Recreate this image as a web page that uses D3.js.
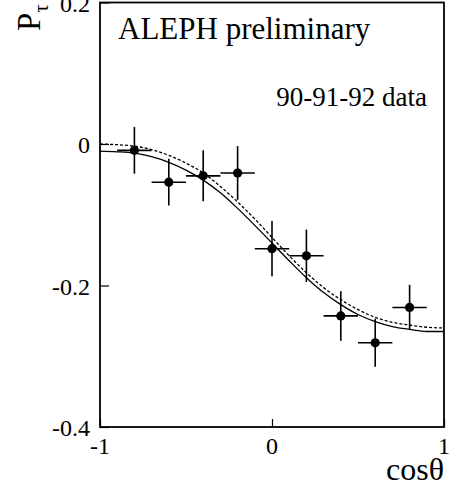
<!DOCTYPE html>
<html>
<head>
<meta charset="utf-8">
<script src="https://cdn.jsdelivr.net/npm/d3@7"></script>
<style>
  body { margin: 0; background: white; }
  text { font-family: "Liberation Serif", "Times New Roman", serif; fill: black; }
</style>
</head>
<body>
<div id="chart"></div>
<script>
// Data points: cos(theta) bin centres, tau polarisation, errors
var binCentres = [-0.8, -0.6, -0.4, -0.2, 0, 0.2, 0.4, 0.6, 0.8];
var polValues = [-0.009, -0.054, -0.045, -0.041, -0.148, -0.158, -0.243, -0.281, -0.231];
var polErrors = [0.033, 0.033, 0.036, 0.038, 0.039, 0.037, 0.035, 0.034, 0.032];
var binHalfWidth = 0.1;

// Fit curves
var curveX = [-1, -0.9, -0.8, -0.7, -0.6, -0.5, -0.4, -0.3, -0.2, -0.1, 0,
              0.1, 0.2, 0.3, 0.4, 0.5, 0.6, 0.7, 0.8, 0.9, 1];
var solidCurve = [-0.010, -0.011, -0.013, -0.018, -0.026, -0.037, -0.051, -0.069, -0.091, -0.115, -0.140,
                  -0.165, -0.189, -0.210, -0.227, -0.241, -0.251, -0.258, -0.262, -0.265, -0.265];
var dashedCurve = [0.000, -0.001, -0.003, -0.008, -0.016, -0.027, -0.041, -0.060, -0.082, -0.106, -0.132,
                   -0.158, -0.182, -0.203, -0.220, -0.234, -0.245, -0.252, -0.256, -0.259, -0.260];

// Tick labels
var xTicks = [-1, 0, 1];
var yTicks = [0.2, 0, -0.2, -0.4];

// SVG area
var svgWidth = 456;
var svgHeight = 489;

var svg = d3.select("#chart")
  .append("svg")
  .attr("width", svgWidth)
  .attr("height", svgHeight);

svg.append("rect")
  .attr("width", svgWidth)
  .attr("height", svgHeight)
  .attr("fill", "white");

// Scales
var xScale = d3.scaleLinear()
  .domain([-1, 1])
  .range([100, 444]);

var yScale = d3.scaleLinear()
  .domain([-0.4, 0.2])
  .range([427, 2.5]);

// Frame
svg.append("rect")
  .attr("x", xScale(-1))
  .attr("y", yScale(0.2))
  .attr("width", xScale(1) - xScale(-1))
  .attr("height", yScale(-0.4) - yScale(0.2))
  .attr("fill", "none")
  .attr("stroke", "black")
  .attr("stroke-width", 1.8);

// Axes: short inward ticks only
var leftAxis = d3.axisRight(yScale)
  .tickValues(yTicks)
  .tickSize(9)
  .tickFormat("");

svg.append("g")
  .attr("transform", `translate(${xScale(-1)}, 0)`)
  .call(leftAxis)
  .call(g => g.select(".domain").remove())
  .selectAll("line")
  .attr("stroke-width", 1.2);

var bottomAxis = d3.axisTop(xScale)
  .tickValues(xTicks)
  .tickSize(8)
  .tickFormat("");

svg.append("g")
  .attr("transform", `translate(0, ${yScale(-0.4)})`)
  .call(bottomAxis)
  .call(g => g.select(".domain").remove())
  .selectAll("line")
  .attr("stroke-width", 1.2);

// Tick labels (plain hyphen minus, as in the original)
svg.selectAll(".ylab")
  .data(yTicks)
  .enter()
  .append("text")
  .attr("x", 90)
  .attr("y", d => yScale(d) + 9)
  .attr("text-anchor", "end")
  .attr("font-size", 24)
  .text(d => String(d));

svg.selectAll(".xlab")
  .data(xTicks)
  .enter()
  .append("text")
  .attr("x", d => xScale(d))
  .attr("y", yScale(-0.4) + 27)
  .attr("text-anchor", "middle")
  .attr("font-size", 24)
  .text(d => String(d));

// Curves
var curveData = curveX.map((x, i) => ({ x: x, solid: solidCurve[i], dashed: dashedCurve[i] }));

var solidLine = d3.line()
  .x(d => xScale(d.x))
  .y(d => yScale(d.solid))
  .curve(d3.curveMonotoneX);

var dashedLine = d3.line()
  .x(d => xScale(d.x))
  .y(d => yScale(d.dashed))
  .curve(d3.curveMonotoneX);

svg.append("path")
  .datum(curveData)
  .attr("d", solidLine)
  .attr("fill", "none")
  .attr("stroke", "black")
  .attr("stroke-width", 1.3);

svg.append("path")
  .datum(curveData)
  .attr("d", dashedLine)
  .attr("fill", "none")
  .attr("stroke", "black")
  .attr("stroke-width", 1.3)
  .attr("stroke-dasharray", "3,2");

// Data points with error bars
var points = binCentres.map((x, i) => ({ x: x, y: polValues[i], err: polErrors[i] }));

var pointGroup = svg.selectAll("g.point")
  .data(points)
  .enter()
  .append("g")
  .attr("class", "point");

pointGroup.append("line")
  .attr("x1", d => xScale(d.x - binHalfWidth))
  .attr("x2", d => xScale(d.x + binHalfWidth))
  .attr("y1", d => yScale(d.y))
  .attr("y2", d => yScale(d.y))
  .attr("stroke", "black")
  .attr("stroke-width", 1.6);

pointGroup.append("line")
  .attr("x1", d => xScale(d.x))
  .attr("x2", d => xScale(d.x))
  .attr("y1", d => yScale(d.y + d.err))
  .attr("y2", d => yScale(d.y - d.err))
  .attr("stroke", "black")
  .attr("stroke-width", 1.6);

pointGroup.append("circle")
  .attr("cx", d => xScale(d.x))
  .attr("cy", d => yScale(d.y))
  .attr("r", 4.6)
  .attr("fill", "black");

// Labels inside the frame
svg.append("text")
  .attr("x", 118)
  .attr("y", 39)
  .attr("font-size", 31)
  .text("ALEPH preliminary");

svg.append("text")
  .attr("x", 427)
  .attr("y", 106)
  .attr("text-anchor", "end")
  .attr("font-size", 27)
  .text("90-91-92 data");

// Axis titles
var yTitle = svg.append("text")
  .attr("transform", "translate(40, 31) rotate(-90)")
  .attr("font-size", 33);

yTitle.append("tspan").text("P");
yTitle.append("tspan")
  .attr("dy", 8)
  .attr("font-size", 21)
  .text("τ");

svg.append("text")
  .attr("x", 444)
  .attr("y", 480)
  .attr("text-anchor", "end")
  .attr("font-size", 32)
  .text("cosθ");
</script>
</body>
</html>
